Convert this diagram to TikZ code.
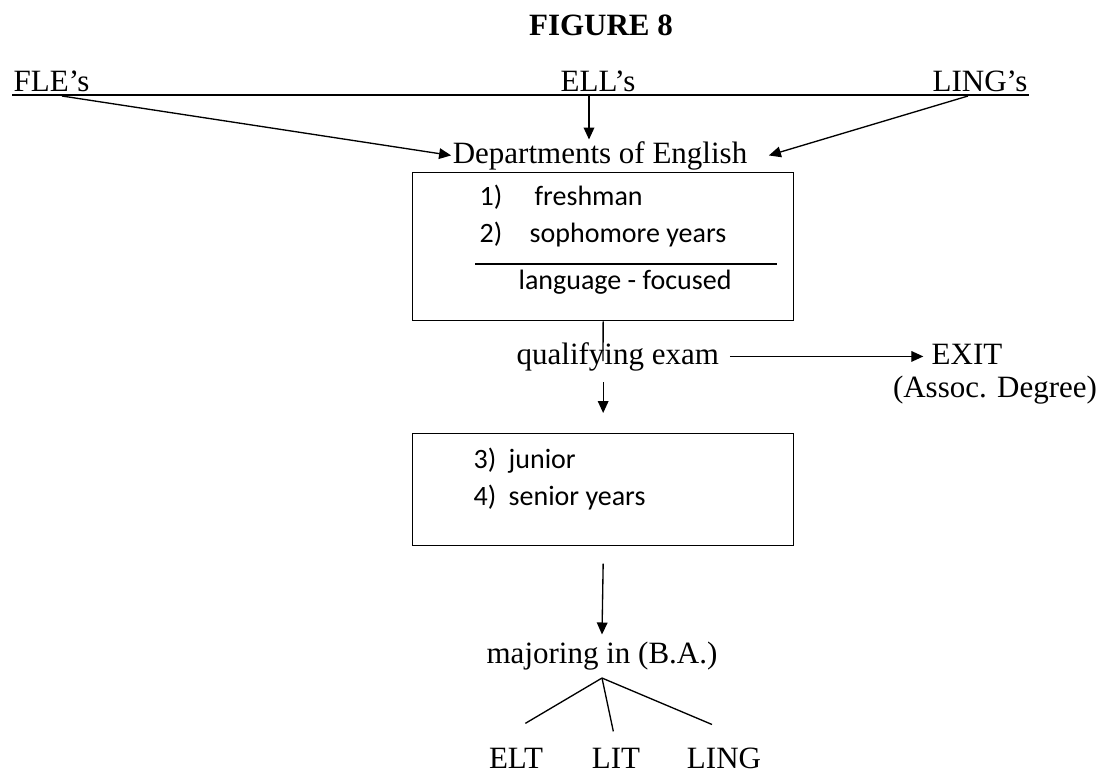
\documentclass[tikz,border=0pt]{standalone}
\usepackage{fontspec}
\setmainfont{Liberation Serif}
\newfontfamily\boxfont{Carlito}
\usetikzlibrary{arrows.meta}

\tikzset{every picture/.style={line width=1pt}}
\tikzset{
  lbl/.style={inner sep=0.75pt, font=\fontsize{23.25}{28}\selectfont},
  itm/.style={inner sep=0.75pt, font=\boxfont\fontsize{21}{25}\selectfont},
  arr/.style={-{Triangle[length=9pt,width=8pt]}},
  yrbox/.style={draw, minimum width=285.75pt, inner sep=0pt, anchor=north west},
}

\begin{document}
\begin{tikzpicture}[x=0.75pt,y=0.75pt,yscale=-1,xscale=1]
\useasboundingbox (0,0) rectangle (1104,776);

% Title
\node (fig) [lbl, anchor=base, font=\fontsize{23.25}{28}\selectfont\bfseries] at (601,35) {FIGURE 8};

% Sources on the top rule
\node (fle) [lbl, anchor=base west] at (12,91) {FLE’s};
\node (ell) [lbl, anchor=base] at (598,91) {ELL’s};
\node (lingtop) [lbl, anchor=base east] at (1029,91) {LING’s};
\coordinate (rulel) at (12,95);
\coordinate (ruler) at (1029,95);
\draw (rulel) -- (ruler);
\coordinate (flefoot) at (62,96);
\coordinate (ellfoot) at (589,95);
\coordinate (lingfoot) at (968,96);

% Departments
\node (dept) [lbl, anchor=base] at (600,163) {Departments of English};
\draw [arr] (flefoot) -- (dept.west);
\draw [arr] (ellfoot) -- (ellfoot |- dept.north);
\draw [arr] (lingfoot) -- ([xshift=15pt]dept.east);

% First two years
\node (yr12) [yrbox, minimum height=111pt] at (412,172) {};
\node (n1) [itm, anchor=base west] at (478,205) {1)};
\node (fresh) [itm, anchor=base west] at (533,205) {freshman};
\node (n2) [itm, anchor=base west] at (478,242) {2)};
\node (soph) [itm, anchor=base west] at (528,242) {sophomore years};
\draw (475,264) -- (777,264);
\node (lang) [itm, anchor=base west] at (517,289) {language - focused};

% Qualifying exam
\node (qual) [lbl, anchor=base west] at (515,364) {qualifying exam};
\coordinate (stemend) at (603,361);
\draw (yr12.south) -- (stemend);
\node (exit) [lbl, anchor=base] at (967,364) {EXIT};
\node (assoc) [lbl, anchor=base] at (995,397) {(Assoc. Degree)};
\draw [arr] ([xshift=7pt]qual.east) -- ++(145pt,0);

% Last two years
\node (yr34) [yrbox, minimum height=84pt] at (412,433) {};
\draw [arr] ([yshift=7.5pt]qual.south -| yr12.south) -- ([yshift=-15pt]yr34.north);
\node (n3) [itm, anchor=base west] at (472,468) {3)};
\node (jun) [itm, anchor=base west] at (507,468) {junior};
\node (n4) [itm, anchor=base west] at (472,505) {4)};
\node (sen) [itm, anchor=base west] at (507,505) {senior years};

% Majors
\node (major) [lbl, anchor=base] at (602,663) {majoring in (B.A.)};
\draw [arr] ([yshift=13pt]yr34.south) -- ([yshift=-4pt]major.north);
\coordinate (root) at ([yshift=5pt]major.south);
\node (elt) [lbl, anchor=base] at (516,768) {ELT};
\node (lit) [lbl, anchor=base] at (616,768) {LIT};
\node (ling) [lbl, anchor=base] at (724,768) {LING};
\draw (root) -- ([xshift=7pt,yshift=-17pt]elt.north);
\draw (root) -- ([xshift=-2pt,yshift=-11pt]lit.north);
\draw (root) -- ([xshift=-9pt,yshift=-16pt]ling.north);

\end{tikzpicture}
\end{document}
